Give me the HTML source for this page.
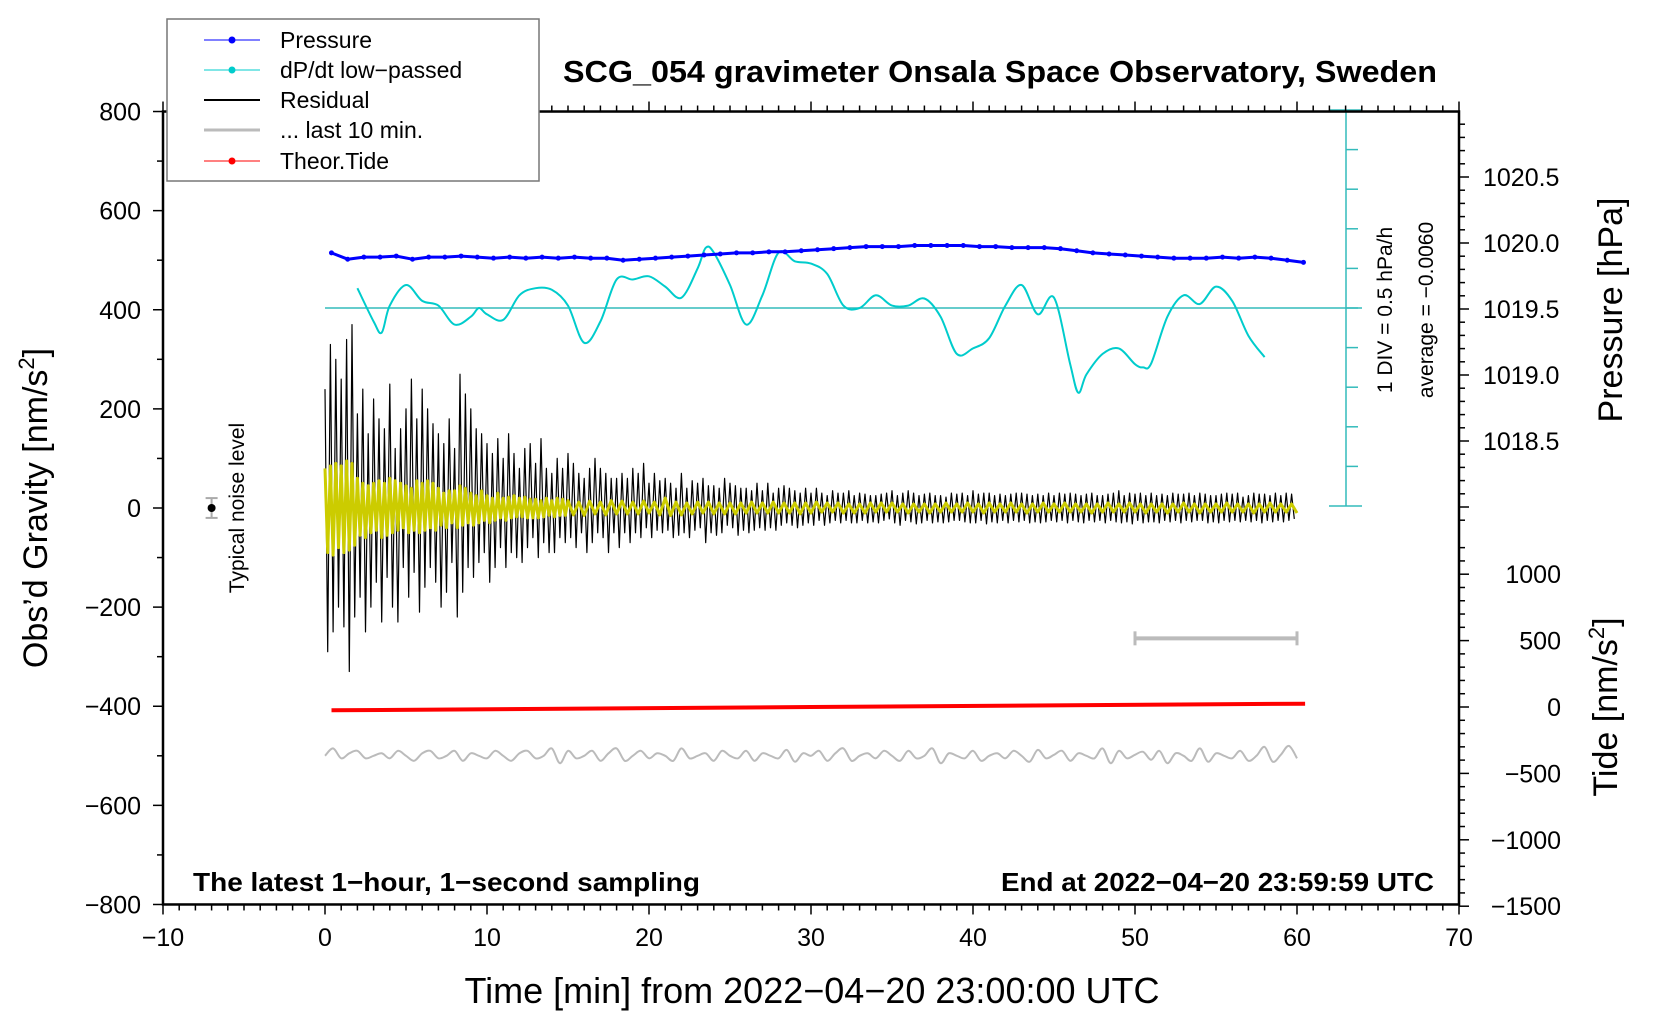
<!DOCTYPE html>
<html><head><meta charset="utf-8"><title>SCG_054 gravimeter</title>
<style>html,body{margin:0;padding:0;background:#fff;}svg{display:block;font-family:"Liberation Sans",sans-serif;}</style>
</head><body>
<svg id="chart" width="1660" height="1020" viewBox="0 0 1660 1020" xmlns="http://www.w3.org/2000/svg">
<rect x="0" y="0" width="1660" height="1020" fill="#fff"/>
<g id="marks"></g>
<g id="axes"></g>
<text x="1000" y="82" text-anchor="middle" font-size="31" font-weight="bold" textLength="874" lengthAdjust="spacingAndGlyphs">SCG_054 gravimeter Onsala Space Observatory, Sweden</text>
<text transform="translate(47,508) rotate(-90)" text-anchor="middle" font-size="34">Obs’d Gravity [nm/s<tspan dy="-13" font-size="22">2</tspan><tspan dy="13">]</tspan></text>
<text transform="translate(244,508) rotate(-90)" text-anchor="middle" font-size="21">Typical noise level</text>
<text transform="translate(1622,310) rotate(-90)" text-anchor="middle" font-size="34">Pressure [hPa]</text>
<text transform="translate(1617,707) rotate(-90)" text-anchor="middle" font-size="34">Tide [nm/s<tspan dy="-13" font-size="22">2</tspan><tspan dy="13">]</tspan></text>
<text transform="translate(1392,310) rotate(-90)" text-anchor="middle" font-size="21">1 DIV = 0.5 hPa/h</text>
<text transform="translate(1433,310) rotate(-90)" text-anchor="middle" font-size="21">average = −0.0060</text>
<text x="812" y="1003" text-anchor="middle" font-size="36">Time [min] from 2022−04−20 23:00:00 UTC</text>
<text x="193" y="891" font-size="26" font-weight="bold" textLength="507" lengthAdjust="spacingAndGlyphs">The latest 1−hour, 1−second sampling</text>
<text x="1001" y="891" font-size="26" font-weight="bold" textLength="433" lengthAdjust="spacingAndGlyphs">End at 2022−04−20 23:59:59 UTC</text>
<g>
<rect x="167" y="19" width="372" height="162" fill="#fff" stroke="#777" stroke-width="1.5"/>
<g><line x1="204" y1="40" x2="260" y2="40" stroke="#00f" stroke-width="1"/><circle cx="232" cy="40" r="3.5" fill="#00f"/><text x="280" y="48" font-size="23">Pressure</text></g>
<g><line x1="204" y1="70" x2="260" y2="70" stroke="#0cc" stroke-width="1"/><circle cx="232" cy="70" r="3.5" fill="#0cc"/><text x="280" y="78" font-size="23">dP/dt low−passed</text></g>
<g><line x1="204" y1="100" x2="260" y2="100" stroke="#000" stroke-width="2"/><text x="280" y="108" font-size="23">Residual</text></g>
<g><line x1="204" y1="130" x2="260" y2="130" stroke="#bbb" stroke-width="3"/><text x="280" y="138" font-size="23">... last 10 min.</text></g>
<g><line x1="204" y1="161" x2="260" y2="161" stroke="#f00" stroke-width="1"/><circle cx="232" cy="161" r="3.5" fill="#f00"/><text x="280" y="169" font-size="23">Theor.Tide</text></g>
</g>
</svg>
<script>
// residual, 10 s spacing, nm/s^2
const residual = [
240,-290,330,-250,300,-200, 260,-240,340,-330,370,-220, 190,-180,240,-250,150,-200,
220,-150,180,-230,160,-140, 250,-200,120,-230,160,-120, 200,-180,260,-130,180,-210,
240,-160,200,-120,170,-150, 150,-200,130,-170,180,-110, 120,-220,270,-170,230,-120,
200,-140,160,-110,150,-90, 130,-150,110,-120,140,-80, 100,-120,150,-90,110,-100,
80,-110,120,-80,130,-60, 90,-100,140,-70,80,-90, 70,-90,100,-60,80,-70,
110,-60,90,-80,70,-50, 60,-90,80,-70,100,-50, 80,-60,70,-90,60,-50,
60,-80,70,-50,60,-70, 80,-50,70,-60,90,-40, 50,-60,70,-45,55,-50,
60,-45,50,-60,40,-55, 70,-50,40,-60,55,-45, 50,-40,60,-70,45,-50,
45,-55,40,-50,60,-35, 50,-40,45,-55,40,-45, 40,-50,35,-45,50,-40,
35,-45,50,-40,30,-45, 40,-35,45,-30,40,-35, 35,-40,30,-35,40,-30,
30,-35,40,-25,30,-35, 25,-30,35,-25,30,-30, 30,-25,35,-30,25,-30,
30,-25,28,-30,25,-28, 25,-30,28,-25,30,-22, 35,-30,25,-35,30,-25,
35,-28,30,-32,25,-30, 28,-25,30,-30,25,-28, 25,-30,22,-28,30,-25,
28,-25,30,-28,25,-30, 35,-30,28,-25,30,-32, 30,-28,25,-30,28,-25,
25,-30,28,-25,30,-28, 30,-25,28,-30,25,-28, 28,-30,25,-28,30,-25,
25,-28,30,-25,28,-30, 30,-25,28,-28,25,-30, 28,-25,30,-28,25,-25,
25,-30,28,-25,30,-28, 35,-30,25,-28,30,-32, 28,-25,30,-30,25,-28,
30,-28,25,-30,28,-25, 25,-28,30,-25,28,-30, 28,-25,30,-28,25,-25,
30,-25,28,-30,25,-28, 25,-30,28,-25,30,-28, 28,-25,30,-28,22,-25,
25,-28,30,-25,28,-30, 28,-25,25,-28,30,-25, 25,-28,30,-25,28,-22
];
// low-passed residual (yellow), 10 s spacing first 15 min
const yellowEarly = [
80,-90,85,-95,90,-80, 85,-90,95,-85,90,-75, 60,-55,50,-60,45,-50,
50,-45,55,-60,50,-55, 60,-50,55,-45,50,-40, 45,-50,40,-45,55,-50,
50,-45,55,-40,50,-45, 40,-35,30,-40,35,-30, 35,-40,45,-35,40,-30,
30,-35,25,-30,35,-25, 25,-30,20,-25,30,-20, 20,-25,22,-20,25,-18,
20,-18,22,-20,18,-20, 18,-20,15,-18,20,-15, 15,-18,20,-15,18,-15
];
// low-passed residual (yellow), 20 s spacing from 15 min to 60 min
const yellowLate = [
15,-14,12,-15,14,-12, 12,-14,15,-12,14,-12, 12,-12,14,-10,12,-14, 20,-15,12,-14,10,-12,
12,-10,12,-12,10,-12, 10,-12,10,-10,12,-10, 10,-10,12,-10,10,-10, 10,-12,10,-10,12,-8,
10,-8,10,-10,8,-10, 8,-10,10,-8,10,-8, 10,-8,8,-10,8,-8, 8,-10,8,-8,10,-8,
8,-8,10,-8,8,-10, 10,-8,8,-8,10,-8, 8,-10,8,-8,10,-8, 8,-8,10,-8,8,-8,
8,-10,8,-8,10,-8, 8,-8,10,-8,8,-10, 8,-8,8,-10,8,-8, 10,-8,8,-10,8,-8,
8,-8,10,-8,8,-8, 8,-10,8,-8,10,-8, 8,-8,8,-10,8,-8, 10,-8,8,-8,10,-8, 8,-8,10,-8,8,-8
];
// pressure hPa, 1-min spacing, minutes 0..60
const pressureHPa = [
1019.925,1019.877,1019.893,1019.893,1019.901,1019.877,1019.893,1019.893,1019.901,1019.893,
1019.885,1019.893,1019.885,1019.893,1019.885,1019.893,1019.885,1019.885,1019.869,1019.877,
1019.885,1019.893,1019.901,1019.909,1019.917,1019.925,1019.925,1019.933,1019.933,1019.941,
1019.949,1019.957,1019.965,1019.973,1019.973,1019.973,1019.981,1019.981,1019.981,1019.981,
1019.973,1019.973,1019.965,1019.965,1019.965,1019.957,1019.941,1019.925,1019.917,1019.909,
1019.901,1019.893,1019.885,1019.885,1019.885,1019.893,1019.885,1019.893,1019.885,1019.869,1019.853
];
// dP/dt low-passed hPa/h
const dpdtTime = [2,3,3.5,4,5,6,7,8,9,9.5,10,11,12,13,14,15,16,17,18,19,20,21,22,23,23.5,24,25,26,27,28,29,30,31,32,33,34,35,36,37,38,39,40,41,42,43,44,45,46,46.5,47,48,49,50,50.5,51,52,53,54,55,56,57,58];
const dpdtValue = [0.25,-0.17,-0.31,0.03,0.29,0.09,0.03,-0.21,-0.11,0.0,-0.08,-0.15,0.16,0.25,0.23,0.03,-0.44,-0.17,0.36,0.36,0.40,0.27,0.13,0.50,0.76,0.70,0.29,-0.21,0.16,0.70,0.59,0.56,0.43,0.03,0.0,0.16,0.03,0.03,0.12,-0.11,-0.58,-0.51,-0.38,0.03,0.29,-0.08,0.13,-0.71,-1.07,-0.84,-0.58,-0.51,-0.71,-0.75,-0.70,-0.11,0.16,0.05,0.27,0.09,-0.35,-0.62];
// last 10 min residual (gray), 30 s spacing, nm/s^2
const lastTen = [
-500,-485,-505,-495,-490,-505,-500,-495,-505,-490,-500,-510,-495,-490,-505,-500,-490,-510,-495,-500,
-505,-490,-500,-510,-495,-490,-505,-500,-485,-515,-490,-505,-500,-490,-510,-495,-485,-510,-500,-490,
-505,-495,-500,-510,-485,-505,-500,-495,-510,-490,-500,-505,-490,-510,-495,-500,-505,-488,-512,-495,
-500,-490,-510,-495,-485,-510,-500,-495,-505,-490,-500,-510,-490,-505,-500,-485,-515,-495,-500,-505,
-490,-510,-500,-495,-505,-490,-500,-512,-488,-505,-498,-490,-510,-495,-500,-505,-485,-515,-490,-505,
-498,-492,-508,-490,-515,-495,-500,-510,-485,-512,-495,-500,-505,-490,-510,-500,-482,-512,-498,-480,-505
];
const tideTime = [0.4, 30, 60.5];
const tideValue = [-25, 0, 25];
const noiseBar = [-7, 0, 20];       // time, value, half-range
const lastTenBar = [50, 60, -263];  // t0, t1, value
const xTicks = [-10,0,10,20,30,40,50,60,70];
const yTicks = [800,600,400,200,0,-200,-400,-600,-800];
const pTicks = [1020.5,1020.0,1019.5,1019.0,1018.5];
const tideTicks = [1000,500,0,-500,-1000,-1500];

const X = t => 163 + (t + 10) * 16.2;
const Yg = v => 508 - v * 0.4956;
const Yp = p => 243 - (p - 1020) * 132;
const Yd = r => 308 - r / 0.5 * 39.6;
const Yt = v => 707 - v * 0.1328;
const NS = 'http://www.w3.org/2000/svg';
const marks = document.getElementById('marks');
const axes = document.getElementById('axes');
function mk(tag, attrs, parent) {
  const e = document.createElementNS(NS, tag);
  for (const k in attrs) e.setAttribute(k, attrs[k]);
  parent.appendChild(e);
  return e;
}
function poly(pts, stroke, w, name) {
  const e = mk('polyline', {points: pts.map(p => p[0].toFixed(1) + ',' + p[1].toFixed(1)).join(' '), fill: 'none', stroke: stroke, 'stroke-width': w, 'stroke-linejoin': 'round'}, marks);
  
  
  return e;
}
function smooth(pts, stroke, w, name) {
  let d = 'M' + pts[0][0].toFixed(1) + ',' + pts[0][1].toFixed(1);
  for (let i = 0; i < pts.length - 1; i++) {
    const p0 = pts[Math.max(0, i - 1)], p1 = pts[i], p2 = pts[i + 1], p3 = pts[Math.min(pts.length - 1, i + 2)];
    const c1x = p1[0] + (p2[0] - p0[0]) / 6, c1y = p1[1] + (p2[1] - p0[1]) / 6;
    const c2x = p2[0] - (p3[0] - p1[0]) / 6, c2y = p2[1] - (p3[1] - p1[1]) / 6;
    d += ' C' + c1x.toFixed(1) + ',' + c1y.toFixed(1) + ' ' + c2x.toFixed(1) + ',' + c2y.toFixed(1) + ' ' + p2[0].toFixed(1) + ',' + p2[1].toFixed(1);
  }
  const e = mk('path', {d: d, fill: 'none', stroke: stroke, 'stroke-width': w}, marks);
  
  
  return e;
}
// dP/dt zero line
const zl = mk('line', {x1: X(0), y1: Yd(0), x2: 1362, y2: Yd(0), stroke: '#3bb', 'stroke-width': 1.5}, marks);


// scale bar
const sb = mk('g', {}, marks);


mk('line', {x1: 1346, y1: Yd(2.5), x2: 1346, y2: Yd(-2.5), stroke: '#3bb', 'stroke-width': 1.5}, sb);
for (let i = -5; i <= 5; i++) {
  const v = i * 0.5, end = Math.abs(i) === 5;
  mk('line', {x1: end ? 1329 : 1346, y1: Yd(v), x2: end ? 1362 : 1358, y2: Yd(v), stroke: '#3bb', 'stroke-width': 1.5}, sb);
}
// gray last 10 min
smooth(lastTen.map((v, i) => [X(i * 0.5), Yg(v)]), '#bbb', 2, 'last-10-min-line');
// residual
poly(residual.map((v, i) => [X(i / 6), Yg(v)]), '#000', 1.2, 'residual-line');
// yellow
const yp = yellowEarly.map((v, i) => [X(i / 6), Yg(v)]).concat(yellowLate.map((v, i) => [X(15 + i / 3), Yg(v)])).filter(p => p[0] <= X(60));
poly(yp, '#cc0', 3, 'residual-lowpass-line');
// dP/dt
smooth(dpdtTime.map((t, i) => [X(t), Yd(dpdtValue[i])]), '#0cc', 2, 'dpdt-line');
// pressure
poly(pressureHPa.map((p, i) => [X(i + 0.4), Yp(p)]), '#00f', 3, 'pressure-line');
pressureHPa.forEach((p, i) => {
  const c = mk('circle', {cx: X(i + 0.4), cy: Yp(p), r: 2.5, fill: '#00f'}, marks);
  
  
});
// tide
poly(tideTime.map((t, i) => [X(t), Yt(tideValue[i])]), '#f00', 4, 'tide-line');
// noise bar
const nb = mk('g', {}, marks);


mk('line', {x1: X(noiseBar[0]), y1: Yg(noiseBar[1] + noiseBar[2]), x2: X(noiseBar[0]), y2: Yg(noiseBar[1] - noiseBar[2]), stroke: '#aaa', 'stroke-width': 2}, nb);
mk('line', {x1: X(noiseBar[0]) - 6, y1: Yg(noiseBar[1] + noiseBar[2]), x2: X(noiseBar[0]) + 6, y2: Yg(noiseBar[1] + noiseBar[2]), stroke: '#aaa', 'stroke-width': 2}, nb);
mk('line', {x1: X(noiseBar[0]) - 6, y1: Yg(noiseBar[1] - noiseBar[2]), x2: X(noiseBar[0]) + 6, y2: Yg(noiseBar[1] - noiseBar[2]), stroke: '#aaa', 'stroke-width': 2}, nb);
mk('circle', {cx: X(noiseBar[0]), cy: Yg(noiseBar[1]), r: 4, fill: '#000'}, nb);
// last-10 bar
const lb = mk('g', {}, marks);


mk('line', {x1: X(lastTenBar[0]), y1: Yg(lastTenBar[2]), x2: X(lastTenBar[1]), y2: Yg(lastTenBar[2]), stroke: '#bbb', 'stroke-width': 4}, lb);
[lastTenBar[0], lastTenBar[1]].forEach(t => mk('line', {x1: X(t), y1: Yg(lastTenBar[2]) - 7, x2: X(t), y2: Yg(lastTenBar[2]) + 7, stroke: '#bbb', 'stroke-width': 3}, lb));

// axes frame
const L = X(-10), R = X(70), T = Yg(800), B = Yg(-800);
const fr = mk('rect', {x: L, y: T, width: R - L, height: B - T, fill: 'none', stroke: '#000', 'stroke-width': 2.5}, axes);


function tick(x1, y1, x2, y2) { mk('line', {x1, y1, x2, y2, stroke: '#000', 'stroke-width': 1.5}, axes); }
function label(x, y, s, anchor, name) {
  const t = mk('text', {x, y, 'text-anchor': anchor, 'font-size': 25}, axes);
  t.textContent = s;
  
  
}
for (let m = -10; m <= 70; m++) {
  const big = m % 10 === 0, len = big ? 10 : 6;
  tick(X(m), B, X(m), B + len);
  tick(X(m), T, X(m), T - len);
}
xTicks.forEach(v => label(X(v), 946, String(v).replace('-', '−'), 'middle', 'x-tick-label'));
for (let v = -800; v <= 800; v += 100) tick(L, Yg(v), L - (v % 200 === 0 ? 10 : 6), Yg(v));
yTicks.forEach(v => label(L - 22, Yg(v) + 9, String(v).replace('-', '−'), 'end', 'y-tick-label'));
for (let p = 1017.9; p <= 1021.0; p += 0.1) {
  const major = Math.abs(p * 2 - Math.round(p * 2)) < 0.01;
  tick(R, Yp(p), R + (major ? 10 : 6), Yp(p));
}
pTicks.forEach(v => label(R + 24, Yp(v) + 9, v.toFixed(1), 'start', 'pressure-tick-label'));
for (let v = -1500; v <= 1200; v += 100) {
  if (Yt(v) < Yp(1017.9)) continue;
  tick(R, Yt(v), R + (v % 500 === 0 ? 10 : 6), Yt(v));
}
tideTicks.forEach(v => label(1561, Yt(v) + 9, String(v).replace('-', '−'), 'end', 'tide-tick-label'));
</script>
</body></html>
